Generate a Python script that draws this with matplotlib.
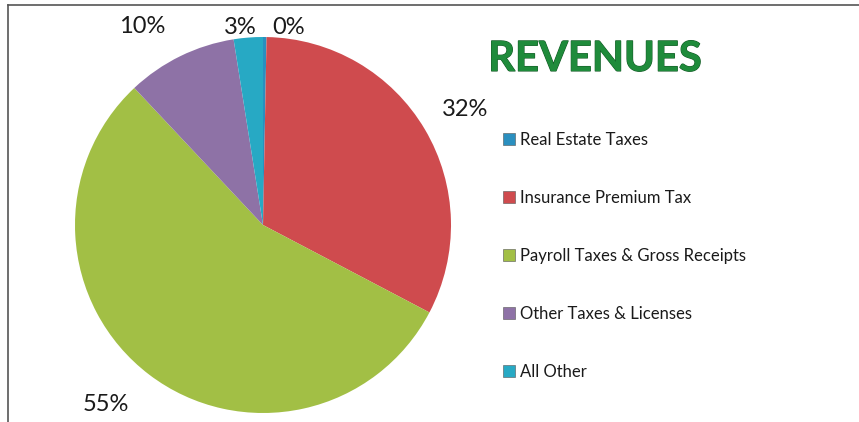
import numpy as np
import matplotlib
matplotlib.use("Agg")
import matplotlib.pyplot as plt
from matplotlib.lines import Line2D
import matplotlib.patheffects as pe

categories = ["Real Estate Taxes", "Insurance Premium Tax", "Payroll Taxes & Gross Receipts",
              "Other Taxes & Licenses", "All Other"]
values = [0.3, 32.4, 55.3, 9.5, 2.5]
pct_labels = ["0%", "32%", "55%", "10%", "3%"]
colors = ["#2A8FBF", "#CF4B4E", "#A2BF45", "#8E72A6", "#27A9C4"]

plt.rcParams['font.family'] = ['Lato', 'DejaVu Sans']

W, H = 859, 422
fig = plt.figure(figsize=(W / 100, H / 100), dpi=100)
ax = fig.add_axes([0, 0, 1, 1])

cx, cy, r = 263, 422 - 225, 188
wedges, _ = ax.pie(values, colors=colors, startangle=90, counterclock=False,
                   center=(cx, cy), radius=r, frame=True,
                   wedgeprops=dict(linewidth=0))
ax.set_xlim(0, W)
ax.set_ylim(0, H)
ax.set_aspect('equal')
ax.axis('off')

# label placement (distance factor, angle offset in degrees)
label_dist = [1.06, 1.235, 1.27, 1.235, 1.06]
label_shift = [-6.7, -0.9, -4.0, 5.3, 2.1]
for w, txt, d, s in zip(wedges, pct_labels, label_dist, label_shift):
    ang = np.deg2rad((w.theta1 + w.theta2) / 2 + s)
    x = cx + d * r * np.cos(ang)
    y = cy + d * r * np.sin(ang)
    ax.text(x, y, txt, ha='center', va='center', fontsize=17, color='#1a1a1a')

# title
ax.text(595, 422 - 59, "REVENUES", ha='center', va='center', fontsize=30,
        fontweight='bold', color='#1F8B3B',
        path_effects=[pe.withStroke(linewidth=0.8, foreground='#145a26')])

# legend
handles = [Line2D([0], [0], marker='s', linestyle='none', markersize=8,
                  markerfacecolor=c, markeredgecolor='#555555', markeredgewidth=0.4)
           for c in colors]
leg = ax.legend(handles, categories, loc='upper left', bbox_to_anchor=(496 / W, 1 - 125 / H),
                frameon=False, fontsize=12, handlelength=0.8, handletextpad=0.25,
                labelspacing=2.52, borderaxespad=0)
for t in leg.get_texts():
    t.set_color('#1a1a1a')

# frame lines (top and left border)
ax.plot([8, W], [H - 5, H - 5], color='#555555', linewidth=1.2)
ax.plot([8, 8], [0, H - 5], color='#555555', linewidth=1.2)

fig.savefig("out.png", dpi=100)
